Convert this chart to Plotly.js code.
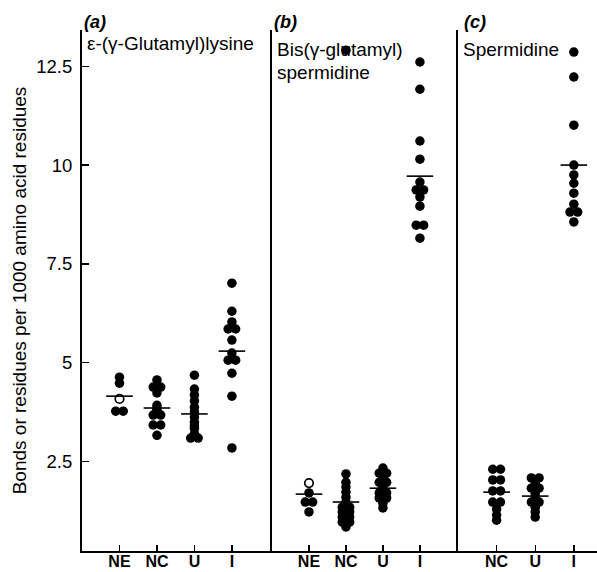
<!DOCTYPE html>
<html>
<head>
<meta charset="utf-8">
<script src="https://cdn.plot.ly/plotly-3.0.1.min.js"></script>
<style>html,body{margin:0;padding:0;background:#fff;}#chart{width:597px;height:572px;}</style>
</head>
<body>
<div id="chart"></div>
<script>
// ---- data ----
const catsA = ['NE', 'NC', 'U', 'I'];
const catsB = ['NE', 'NC', 'U', 'I'];
const catsC = ['NC', 'U', 'I'];

const aNE = [4.63, 4.48, 3.77, 3.77];
const aNEopen = [4.08];
const aNC = [4.56, 4.38, 4.38, 4.23, 3.92, 3.85, 3.80, 3.67, 3.67, 3.42, 3.42, 3.16];
const aU = [4.68, 4.33, 4.18, 4.03, 3.87, 3.75, 3.62, 3.49, 3.40, 3.34, 3.20, 3.09, 3.09];
const aI = [7.01, 6.30, 6.03, 5.85, 5.85, 5.57, 5.24, 5.06, 5.06, 4.73, 4.15, 2.84];
const aMeans = [4.15, 3.85, 3.70, 5.29];

const bNE = [1.70, 1.47, 1.47, 1.22];
const bNEopen = [1.95];
const bNC = [12.91, 2.18, 1.97, 1.85, 1.72, 1.59, 1.47, 1.34, 1.34, 1.22, 1.22, 1.09, 1.09, 0.96, 0.96, 0.84];
const bU = [2.33, 2.20, 2.20, 2.08, 1.97, 1.97, 1.82, 1.70, 1.70, 1.57, 1.57, 1.44, 1.32];
const bI = [12.61, 11.92, 10.61, 10.15, 9.57, 9.37, 9.37, 9.19, 8.96, 8.48, 8.48, 8.15];
const bMeans = [1.67, 1.47, 1.82, 9.72];

const cNC = [2.30, 2.30, 2.03, 2.03, 1.75, 1.75, 1.47, 1.47, 1.29, 1.14, 1.01];
const cU = [2.08, 2.08, 1.95, 1.82, 1.82, 1.67, 1.54, 1.47, 1.47, 1.34, 1.22, 1.09];
const cI = [12.86, 12.23, 11.01, 10.0, 9.75, 9.54, 9.29, 9.01, 8.81, 8.81, 8.56];
const cMeans = [1.72, 1.62, 10.0];

const yTickVals = [2.5, 5, 7.5, 10, 12.5];
const yTickText = ['2.5', '5', '7.5', '10', '12.5'];

// ---- helpers ----
const FONT = 'Liberation Sans, Arial, Helvetica, sans-serif';
const SPREAD = 0.2;
function spreadX(values, pos) {
  // equal values are placed side by side around the category position
  const counts = {}, seen = {};
  values.forEach(v => { counts[v] = (counts[v] || 0) + 1; });
  return values.map(v => {
    const k = seen[v] || 0; seen[v] = k + 1;
    return pos + (k - (counts[v] - 1) / 2) * SPREAD;
  });
}
function pts(values, pos, xa, ya, open) {
  return {
    type: 'scatter', mode: 'markers', xaxis: xa, yaxis: ya,
    x: spreadX(values, pos), y: values, hoverinfo: 'y',
    marker: open
      ? {symbol: 'circle-open', size: 8.5, color: '#000', line: {color: '#000', width: 1.7}}
      : {symbol: 'circle', size: 9.5, color: '#000', line: {width: 0}},
    showlegend: false
  };
}
function means(vals, xa, ya) {
  return {
    type: 'scatter', mode: 'markers', xaxis: xa, yaxis: ya,
    x: vals.map((_, i) => i + 1), y: vals, hoverinfo: 'y',
    marker: {symbol: 'line-ew', size: 19, color: '#000', line: {color: '#000', width: 1.6}},
    showlegend: false
  };
}

const traces = [];
[aNE, aNC, aU, aI].forEach((g, i) => traces.push(pts(g, i + 1, 'x', 'y', false)));
traces.push(pts(aNEopen, 1, 'x', 'y', true));
traces.push(means(aMeans, 'x', 'y'));

[bNE, bNC, bU, bI].forEach((g, i) => traces.push(pts(g, i + 1, 'x2', 'y2', false)));
traces.push(pts(bNEopen, 1, 'x2', 'y2', true));
traces.push(means(bMeans, 'x2', 'y2'));

[cNC, cU, cI].forEach((g, i) => traces.push(pts(g, i + 1, 'x3', 'y3', false)));
traces.push(means(cMeans, 'x3', 'y3'));

// ---- layout ----
const L = 82, R = 0, T = 30, B = 21, W = 597, H = 572;
const PW = W - L - R, PH = H - T - B;
const px = p => (p - L) / PW;
const py = p => (H - B - p) / PH;

const xBase = {
  showline: true, linecolor: '#000', linewidth: 1.6, mirror: false,
  ticks: 'inside', ticklen: 6, tickwidth: 1.4, tickcolor: '#000',
  tickvals: [1, 2, 3, 4], showgrid: false, zeroline: false,
  ticklabelstandoff: -5,
  tickfont: {family: FONT, size: 16, color: '#000', weight: 'bold'}, fixedrange: true
};
const yRange = [0.23, 13.42];
const yBase = {
  range: yRange, showline: true, linecolor: '#000', linewidth: 2,
  showgrid: false, zeroline: false, fixedrange: true
};

const layout = {
  width: W, height: H,
  margin: {l: L, r: R, t: T, b: B, pad: 0},
  paper_bgcolor: '#fff', plot_bgcolor: '#fff',
  font: {family: FONT, color: '#000'},
  xaxis: Object.assign({}, xBase, {domain: [0, px(272)], range: [0, 5.07], ticktext: catsA, anchor: 'y'}),
  xaxis2: Object.assign({}, xBase, {domain: [px(272), px(458)], range: [0, 5.03], ticktext: catsB, anchor: 'y2'}),
  xaxis3: Object.assign({}, xBase, {domain: [px(458), 1], range: [0, 3.6], tickvals: [1, 2, 3], ticktext: catsC, anchor: 'y3'}),
  yaxis: Object.assign({}, yBase, {
    anchor: 'x', ticks: 'inside', ticklen: 7, tickwidth: 1.4, tickcolor: '#000',
    tickvals: yTickVals, ticktext: yTickText, ticklabelstandoff: 4,
    tickfont: {family: FONT, size: 18.5, color: '#000'},
    title: {text: 'Bonds or residues per 1000 amino acid residues', standoff: 5,
            font: {family: FONT, size: 19, color: '#000'}}
  }),
  yaxis2: Object.assign({}, yBase, {anchor: 'x2', showticklabels: false, ticks: ''}),
  yaxis3: Object.assign({}, yBase, {anchor: 'x3', showticklabels: false, ticks: ''}),
  annotations: [
    {text: '<b><i>(a)</i></b>', x: px(82), y: py(22), font: {family: FONT, size: 18, color: '#000'}},
    {text: '<b><i>(b)</i></b>', x: px(272), y: py(22), font: {family: FONT, size: 18, color: '#000'}},
    {text: '<b><i>(c)</i></b>', x: px(462), y: py(22), font: {family: FONT, size: 18, color: '#000'}},
    {text: 'ε-(γ-Glutamyl)lysine', x: px(85), y: py(43)},
    {text: 'Bis(γ-glutamyl)', x: px(275), y: py(49)},
    {text: 'spermidine', x: px(275), y: py(72)},
    {text: 'Spermidine', x: px(461), y: py(50)}
  ].map(a => Object.assign({
    xref: 'paper', yref: 'paper', xanchor: 'left', yanchor: 'middle',
    showarrow: false, font: {family: FONT, size: 19, color: '#000'}
  }, a))
};

Plotly.newPlot('chart', traces, layout, {displayModeBar: false, staticPlot: true});
</script>
</body>
</html>
